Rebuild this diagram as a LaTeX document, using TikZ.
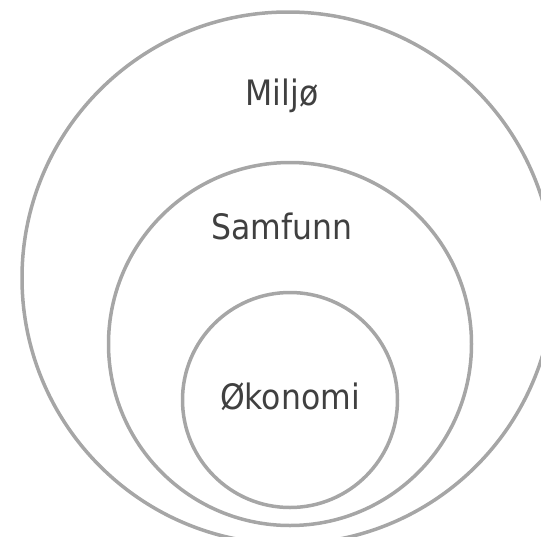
\documentclass[tikz,border=0pt]{standalone}
\usepackage{fontspec}
\setmainfont{DejaVu Sans}[FakeStretch=0.9]
\usetikzlibrary{positioning}

\definecolor{ringgray}{HTML}{A6A6A6}
\definecolor{labelgray}{HTML}{404040}

\tikzset{
  ring/.style={draw=ringgray, line width=3.5pt, circle, inner sep=0pt},
  ringlabel/.style={text=labelgray, anchor=base, inner sep=0pt,
    font=\fontsize{35}{42}\selectfont}
}

\begin{document}
\begin{tikzpicture}[x=1pt, y=-1pt]
  \path[use as bounding box, clip] (0,0) rectangle (541,536);
  % rings
  \node[ring, minimum size=532pt] (miljo)    at (288,278) {};
  \node[ring, minimum size=363pt] (samfunn)  at (290,344) {};
  \node[ring, minimum size=215pt] (okonomi)  at (290,400) {};
  % labels
  \node[ringlabel] (miljotext)   at (282,105) {Miljø};
  \node[ringlabel] (samfunntext) at (282,239) {Samfunn};
  \node[ringlabel] (okonomitext) at (290,409) {Økonomi};
\end{tikzpicture}
\end{document}
